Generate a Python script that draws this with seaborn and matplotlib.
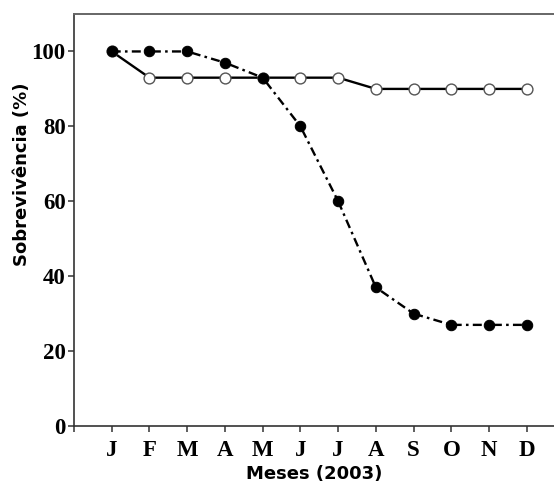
import matplotlib
matplotlib.use("Agg")
import matplotlib.pyplot as plt
import seaborn as sns
import pandas as pd

# months of 2003
meses = ["J", "F", "M", "A", "M", "J", "J", "A", "S", "O", "N", "D"]
posicao = list(range(1, 13))

# survival (%) - open circles, solid line
sobrev_aberto = [100, 93, 93, 93, 93, 93, 93, 90, 90, 90, 90, 90]
# survival (%) - filled circles, dash-dot line
sobrev_cheio = [100, 100, 100, 97, 93, 80, 60, 37, 30, 27, 27, 27]

df = pd.DataFrame({"pos": posicao, "aberto": sobrev_aberto, "cheio": sobrev_cheio})

sns.set_style("ticks")
plt.rcParams["text.color"] = "black"
plt.rcParams["axes.labelcolor"] = "black"
plt.rcParams["xtick.color"] = "black"
plt.rcParams["ytick.color"] = "black"

fig = plt.figure(figsize=(5.54, 4.82), dpi=100)
ax = fig.add_axes([74 / 554, 56 / 482, 480 / 554, 412 / 482])

sns.lineplot(data=df, x="pos", y="aberto", ax=ax, color="black", lw=1.7,
             marker="o", markersize=7.8, markerfacecolor="white",
             markeredgecolor="#555555", markeredgewidth=1.0)
sns.lineplot(data=df, x="pos", y="cheio", ax=ax, color="black", lw=1.7,
             marker="o", markersize=7.5, markerfacecolor="black",
             markeredgecolor="black")
ax.lines[-1].set_dashes((3.8, 1.8, 1.1, 1.8))

ax.set_xlim(0, 12.72)
ax.set_ylim(0, 110)
ax.set_xticks([0] + posicao)
ax.set_xticklabels([""] + meses)
ax.set_yticks([0, 20, 40, 60, 80, 100])

for lab in ax.get_xticklabels() + ax.get_yticklabels():
    lab.set_fontfamily("Liberation Serif")
    lab.set_fontweight("bold")
    lab.set_fontsize(16.5)
    lab.set_color("black")
ax.tick_params(direction="out", length=4, width=1.1, color="#333333", pad=2)
ax.tick_params(axis="x", pad=6)

ax.set_xlabel("Meses (2003)", fontsize=13, fontweight="bold", family="DejaVu Sans",
              color="black", labelpad=3)
ax.set_ylabel("Sobrevivência (%)", fontsize=13, fontweight="bold", family="DejaVu Sans",
              color="black")
ax.yaxis.set_label_coords(-0.090, 0.61)

for side in ["left", "bottom"]:
    ax.spines[side].set_color("#333333")
    ax.spines[side].set_linewidth(1.2)
ax.spines["top"].set_visible(True)
ax.spines["top"].set_color("#666666")
ax.spines["top"].set_linewidth(1.4)
ax.spines["right"].set_visible(False)

fig.savefig("out.png", dpi=100)
